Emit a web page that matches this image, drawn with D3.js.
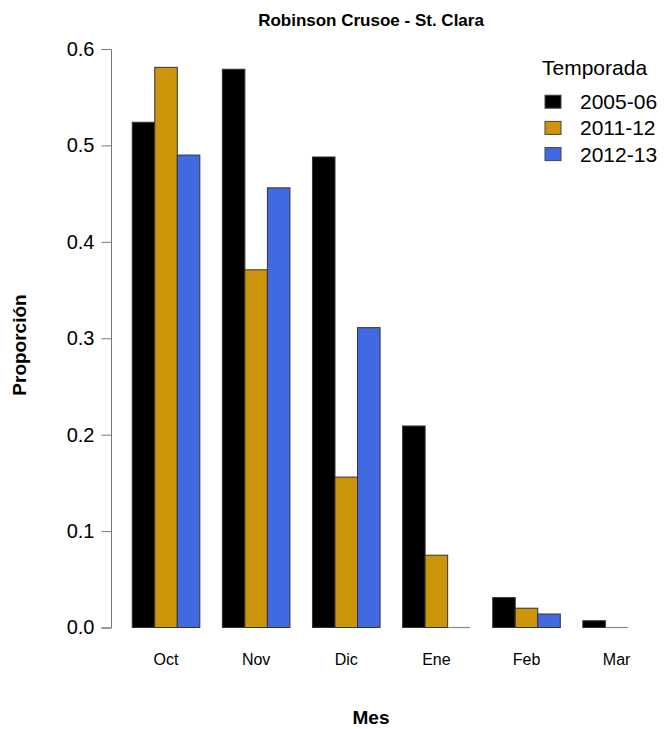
<!DOCTYPE html>
<html><head><meta charset="utf-8">
<script src="https://cdn.jsdelivr.net/npm/d3@7"></script>
<style>body{margin:0;background:#fff}svg{display:block}text{font-family:"Liberation Sans",Arial,sans-serif}</style>
</head><body>
<script>
const months = ["Oct","Nov","Dic","Ene","Feb","Mar"];
const seasons = ["2005-06","2011-12","2012-13"];
const colors = ["#000000","#CD950C","#4169E1"];
const s2005 = [0.524, 0.579, 0.488, 0.209, 0.031, 0.007];
const s2011 = [0.581, 0.371, 0.156, 0.075, 0.020, 0.000];
const s2012 = [0.490, 0.456, 0.311, 0.000, 0.014, null];
const yTicks = [0, 0.1, 0.2, 0.3, 0.4, 0.5, 0.6];
const series = [s2005, s2011, s2012];

const W = 666, H = 729;
const svg = d3.select("body").append("svg").attr("width", W).attr("height", H);

const y = d3.scaleLinear().domain([0, 0.6]).range([627.5, 49]);
const x = d3.scaleLinear().domain([0, 24]).range([109.7, 109.7 + 24 * 22.53]);

// bars
months.forEach((m, i) => {
  series.forEach((s, j) => {
    const v = s[i];
    if (v === null) return;
    const u = 1 + 4 * i + j;
    if (v === 0) {
      svg.append("line")
        .attr("x1", x(u)).attr("x2", x(u + 1))
        .attr("y1", y(0)).attr("y2", y(0))
        .attr("stroke", "#888").attr("stroke-width", 1.2);
      return;
    }
    svg.append("rect")
      .attr("x", x(u)).attr("width", x(u + 1) - x(u))
      .attr("y", y(v)).attr("height", y(0) - y(v))
      .attr("fill", colors[j])
      .attr("stroke", "#333").attr("stroke-width", 1);
  });
});

// y axis
const ax = svg.append("g").attr("transform", "translate(111,0)")
  .call(d3.axisLeft(y).tickValues(yTicks).tickFormat(d3.format(".1f")).tickSizeOuter(0).tickSize(9.5).tickPadding(7));
ax.select(".domain").attr("stroke", "#777");
ax.selectAll(".tick line").attr("stroke", "#777");
ax.selectAll(".tick text").attr("font-size", 20).attr("fill", "#000")
  .attr("font-family", '"Liberation Sans",Arial,sans-serif');

// month labels
months.forEach((m, i) => {
  svg.append("text").attr("x", x(1 + 4 * i + 1.5)).attr("y", 665)
    .attr("text-anchor", "middle").attr("font-size", 16).text(m);
});

// titles
svg.append("text").attr("x", 371).attr("y", 26).attr("text-anchor", "middle")
  .attr("font-size", 17).attr("font-weight", "bold").text("Robinson Crusoe - St. Clara");
svg.append("text").attr("x", 371).attr("y", 724).attr("text-anchor", "middle")
  .attr("font-size", 19).attr("font-weight", "bold").text("Mes");
svg.append("text").attr("transform", "translate(26,345) rotate(-90)").attr("text-anchor", "middle")
  .attr("font-size", 19).attr("font-weight", "bold").text("Proporción");

// legend
svg.append("text").attr("x", 542).attr("y", 75).attr("font-size", 21).text("Temporada");
seasons.forEach((s, j) => {
  const cy = 101.7 + j * 26.2;
  svg.append("rect").attr("x", 545).attr("y", cy - 6.5).attr("width", 16).attr("height", 13)
    .attr("fill", colors[j]).attr("stroke", "#444").attr("stroke-width", 1);
  svg.append("text").attr("x", 580).attr("y", cy + 7.5).attr("font-size", 21).text(s);
});
</script>
</body></html>
